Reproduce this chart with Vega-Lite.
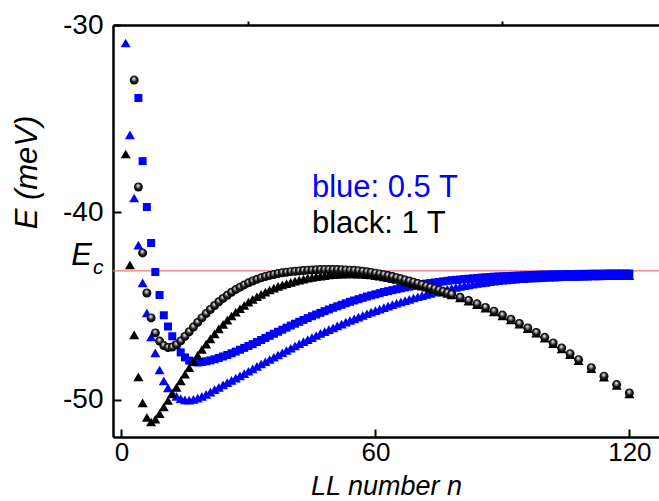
{
  "$schema": "https://vega.github.io/schema/vega-lite/v6.json",
  "width": 546,
  "height": 412,
  "autosize": "none",
  "padding": {"left": 113, "top": 25, "right": 0, "bottom": 64},
  "config": {"view": {"stroke": null}, "font": "Liberation Sans"},
  "datasets": {
    "ec": [{"Ec": -43.13}],
    "bt": [{"n":1,"E":-30.96},{"n":2,"E":-35.87},{"n":3,"E":-39.24},{"n":4,"E":-41.75},{"n":5,"E":-43.77},{"n":6,"E":-45.38},{"n":7,"E":-46.66},{"n":8,"E":-47.51},{"n":9,"E":-48.42},{"n":10,"E":-49.0},{"n":11,"E":-49.38},{"n":12,"E":-49.65},{"n":13,"E":-49.83},{"n":14,"E":-49.95},{"n":15,"E":-50.02},{"n":16,"E":-50.03},{"n":17,"E":-49.99},{"n":18,"E":-49.92},{"n":19,"E":-49.83},{"n":20,"E":-49.72},{"n":21,"E":-49.6},{"n":22,"E":-49.47},{"n":23,"E":-49.35},{"n":24,"E":-49.22},{"n":25,"E":-49.1},{"n":26,"E":-48.98},{"n":27,"E":-48.86},{"n":28,"E":-48.74},{"n":29,"E":-48.62},{"n":30,"E":-48.49},{"n":31,"E":-48.36},{"n":32,"E":-48.23},{"n":33,"E":-48.1},{"n":34,"E":-47.98},{"n":35,"E":-47.86},{"n":36,"E":-47.74},{"n":37,"E":-47.62},{"n":38,"E":-47.5},{"n":39,"E":-47.38},{"n":40,"E":-47.26},{"n":41,"E":-47.14},{"n":42,"E":-47.02},{"n":43,"E":-46.91},{"n":44,"E":-46.8},{"n":45,"E":-46.69},{"n":46,"E":-46.58},{"n":47,"E":-46.47},{"n":48,"E":-46.37},{"n":49,"E":-46.27},{"n":50,"E":-46.17},{"n":51,"E":-46.07},{"n":52,"E":-45.97},{"n":53,"E":-45.87},{"n":54,"E":-45.78},{"n":55,"E":-45.69},{"n":56,"E":-45.6},{"n":57,"E":-45.51},{"n":58,"E":-45.42},{"n":59,"E":-45.33},{"n":60,"E":-45.25},{"n":61,"E":-45.17},{"n":62,"E":-45.09},{"n":63,"E":-45.01},{"n":64,"E":-44.93},{"n":65,"E":-44.86},{"n":66,"E":-44.79},{"n":67,"E":-44.72},{"n":68,"E":-44.65},{"n":69,"E":-44.58},{"n":70,"E":-44.51},{"n":71,"E":-44.45},{"n":72,"E":-44.39},{"n":73,"E":-44.33},{"n":74,"E":-44.27},{"n":75,"E":-44.21},{"n":76,"E":-44.16},{"n":77,"E":-44.11},{"n":78,"E":-44.06},{"n":79,"E":-44.01},{"n":80,"E":-43.96},{"n":81,"E":-43.92},{"n":82,"E":-43.88},{"n":83,"E":-43.84},{"n":84,"E":-43.8},{"n":85,"E":-43.77},{"n":86,"E":-43.74},{"n":87,"E":-43.71},{"n":88,"E":-43.68},{"n":89,"E":-43.65},{"n":90,"E":-43.63},{"n":91,"E":-43.61},{"n":92,"E":-43.59},{"n":93,"E":-43.57},{"n":94,"E":-43.55},{"n":95,"E":-43.54},{"n":96,"E":-43.52},{"n":97,"E":-43.51},{"n":98,"E":-43.5},{"n":99,"E":-43.49},{"n":100,"E":-43.48},{"n":101,"E":-43.47},{"n":102,"E":-43.46},{"n":103,"E":-43.45},{"n":104,"E":-43.44},{"n":105,"E":-43.43},{"n":106,"E":-43.43},{"n":107,"E":-43.42},{"n":108,"E":-43.42},{"n":109,"E":-43.41},{"n":110,"E":-43.41},{"n":111,"E":-43.4},{"n":112,"E":-43.4},{"n":113,"E":-43.4},{"n":114,"E":-43.39},{"n":115,"E":-43.39},{"n":116,"E":-43.39},{"n":117,"E":-43.39},{"n":118,"E":-43.39},{"n":119,"E":-43.38},{"n":120,"E":-43.38}],
    "bs": [{"n":4,"E":-33.9},{"n":5,"E":-37.27},{"n":6,"E":-39.72},{"n":7,"E":-41.64},{"n":8,"E":-43.19},{"n":9,"E":-44.42},{"n":10,"E":-45.5},{"n":11,"E":-46.1},{"n":12,"E":-46.62},{"n":13,"E":-47.1},{"n":14,"E":-47.48},{"n":15,"E":-47.75},{"n":16,"E":-47.92},{"n":17,"E":-48.0},{"n":18,"E":-48.02},{"n":19,"E":-48.0},{"n":20,"E":-47.96},{"n":21,"E":-47.91},{"n":22,"E":-47.85},{"n":23,"E":-47.78},{"n":24,"E":-47.7},{"n":25,"E":-47.62},{"n":26,"E":-47.53},{"n":27,"E":-47.44},{"n":28,"E":-47.34},{"n":29,"E":-47.24},{"n":30,"E":-47.14},{"n":31,"E":-47.04},{"n":32,"E":-46.93},{"n":33,"E":-46.82},{"n":34,"E":-46.71},{"n":35,"E":-46.6},{"n":36,"E":-46.49},{"n":37,"E":-46.38},{"n":38,"E":-46.27},{"n":39,"E":-46.16},{"n":40,"E":-46.05},{"n":41,"E":-45.95},{"n":42,"E":-45.85},{"n":43,"E":-45.75},{"n":44,"E":-45.65},{"n":45,"E":-45.55},{"n":46,"E":-45.46},{"n":47,"E":-45.37},{"n":48,"E":-45.28},{"n":49,"E":-45.19},{"n":50,"E":-45.1},{"n":51,"E":-45.02},{"n":52,"E":-44.94},{"n":53,"E":-44.86},{"n":54,"E":-44.78},{"n":55,"E":-44.71},{"n":56,"E":-44.64},{"n":57,"E":-44.57},{"n":58,"E":-44.5},{"n":59,"E":-44.44},{"n":60,"E":-44.38},{"n":61,"E":-44.32},{"n":62,"E":-44.26},{"n":63,"E":-44.21},{"n":64,"E":-44.16},{"n":65,"E":-44.11},{"n":66,"E":-44.06},{"n":67,"E":-44.01},{"n":68,"E":-43.97},{"n":69,"E":-43.93},{"n":70,"E":-43.89},{"n":71,"E":-43.85},{"n":72,"E":-43.81},{"n":73,"E":-43.78},{"n":74,"E":-43.75},{"n":75,"E":-43.72},{"n":76,"E":-43.69},{"n":77,"E":-43.66},{"n":78,"E":-43.63},{"n":79,"E":-43.61},{"n":80,"E":-43.59},{"n":81,"E":-43.57},{"n":82,"E":-43.55},{"n":83,"E":-43.53},{"n":84,"E":-43.51},{"n":85,"E":-43.49},{"n":86,"E":-43.47},{"n":87,"E":-43.46},{"n":88,"E":-43.44},{"n":89,"E":-43.43},{"n":90,"E":-43.42},{"n":91,"E":-43.41},{"n":92,"E":-43.4},{"n":93,"E":-43.39},{"n":94,"E":-43.38},{"n":95,"E":-43.37},{"n":96,"E":-43.36},{"n":97,"E":-43.35},{"n":98,"E":-43.34},{"n":99,"E":-43.33},{"n":100,"E":-43.33},{"n":101,"E":-43.32},{"n":102,"E":-43.32},{"n":103,"E":-43.31},{"n":104,"E":-43.31},{"n":105,"E":-43.3},{"n":106,"E":-43.3},{"n":107,"E":-43.3},{"n":108,"E":-43.29},{"n":109,"E":-43.29},{"n":110,"E":-43.29},{"n":111,"E":-43.28},{"n":112,"E":-43.28},{"n":113,"E":-43.28},{"n":114,"E":-43.28},{"n":115,"E":-43.27},{"n":116,"E":-43.27},{"n":117,"E":-43.27},{"n":118,"E":-43.27},{"n":119,"E":-43.27},{"n":120,"E":-43.27}],
    "kt": [{"n":1,"E":-36.89},{"n":2,"E":-42.81},{"n":3,"E":-46.55},{"n":4,"E":-48.79},{"n":5,"E":-50.18},{"n":6,"E":-50.95},{"n":7,"E":-51.2},{"n":8,"E":-51.05},{"n":9,"E":-50.75},{"n":10,"E":-50.4},{"n":11,"E":-50.05},{"n":12,"E":-49.7},{"n":13,"E":-49.35},{"n":14,"E":-49.0},{"n":15,"E":-48.65},{"n":16,"E":-48.3},{"n":17,"E":-47.96},{"n":18,"E":-47.64},{"n":19,"E":-47.33},{"n":20,"E":-47.04},{"n":21,"E":-46.76},{"n":22,"E":-46.49},{"n":23,"E":-46.23},{"n":24,"E":-45.99},{"n":25,"E":-45.76},{"n":26,"E":-45.54},{"n":27,"E":-45.34},{"n":28,"E":-45.15},{"n":29,"E":-44.97},{"n":30,"E":-44.8},{"n":31,"E":-44.65},{"n":32,"E":-44.51},{"n":33,"E":-44.38},{"n":34,"E":-44.26},{"n":35,"E":-44.15},{"n":36,"E":-44.05},{"n":37,"E":-43.96},{"n":38,"E":-43.88},{"n":39,"E":-43.81},{"n":40,"E":-43.74},{"n":41,"E":-43.68},{"n":42,"E":-43.62},{"n":43,"E":-43.57},{"n":44,"E":-43.52},{"n":45,"E":-43.48},{"n":46,"E":-43.44},{"n":47,"E":-43.41},{"n":48,"E":-43.38},{"n":49,"E":-43.35},{"n":50,"E":-43.33},{"n":51,"E":-43.31},{"n":52,"E":-43.3},{"n":53,"E":-43.29},{"n":54,"E":-43.29},{"n":55,"E":-43.29},{"n":56,"E":-43.3},{"n":57,"E":-43.31},{"n":58,"E":-43.33},{"n":59,"E":-43.35},{"n":60,"E":-43.38},{"n":61,"E":-43.41},{"n":62,"E":-43.45},{"n":63,"E":-43.49},{"n":64,"E":-43.54},{"n":65,"E":-43.59},{"n":66,"E":-43.64},{"n":67,"E":-43.7},{"n":68,"E":-43.76},{"n":69,"E":-43.82},{"n":70,"E":-43.88},{"n":71,"E":-43.94},{"n":72,"E":-44.0},{"n":73,"E":-44.06},{"n":74,"E":-44.12},{"n":75,"E":-44.19},{"n":76,"E":-44.26},{"n":77,"E":-44.33},{"n":78,"E":-44.41},{"n":80,"E":-44.58},{"n":82,"E":-44.75},{"n":84,"E":-44.93},{"n":86,"E":-45.12},{"n":88,"E":-45.32},{"n":90,"E":-45.53},{"n":92,"E":-45.75},{"n":94,"E":-45.98},{"n":96,"E":-46.22},{"n":98,"E":-46.46},{"n":100,"E":-46.72},{"n":102,"E":-47.02},{"n":104,"E":-47.3},{"n":106,"E":-47.6},{"n":108,"E":-47.92},{"n":111,"E":-48.35},{"n":114,"E":-48.8},{"n":117,"E":-49.25},{"n":120,"E":-49.7}],
    "ks": [{"n":3,"E":-32.94},{"n":4,"E":-38.65},{"n":5,"E":-42.17},{"n":6,"E":-44.31},{"n":7,"E":-45.64},{"n":8,"E":-46.44},{"n":9,"E":-46.88},{"n":10,"E":-47.12},{"n":11,"E":-47.22},{"n":12,"E":-47.2},{"n":13,"E":-47.07},{"n":14,"E":-46.87},{"n":15,"E":-46.63},{"n":16,"E":-46.38},{"n":17,"E":-46.13},{"n":18,"E":-45.88},{"n":19,"E":-45.64},{"n":20,"E":-45.41},{"n":21,"E":-45.19},{"n":22,"E":-44.98},{"n":23,"E":-44.78},{"n":24,"E":-44.6},{"n":25,"E":-44.43},{"n":26,"E":-44.27},{"n":27,"E":-44.13},{"n":28,"E":-44.0},{"n":29,"E":-43.88},{"n":30,"E":-43.77},{"n":31,"E":-43.67},{"n":32,"E":-43.58},{"n":33,"E":-43.5},{"n":34,"E":-43.43},{"n":35,"E":-43.37},{"n":36,"E":-43.32},{"n":37,"E":-43.27},{"n":38,"E":-43.23},{"n":39,"E":-43.2},{"n":40,"E":-43.17},{"n":41,"E":-43.15},{"n":42,"E":-43.13},{"n":43,"E":-43.11},{"n":44,"E":-43.09},{"n":45,"E":-43.08},{"n":46,"E":-43.07},{"n":47,"E":-43.06},{"n":48,"E":-43.06},{"n":49,"E":-43.06},{"n":50,"E":-43.06},{"n":51,"E":-43.06},{"n":52,"E":-43.07},{"n":53,"E":-43.08},{"n":54,"E":-43.09},{"n":55,"E":-43.1},{"n":56,"E":-43.12},{"n":57,"E":-43.15},{"n":58,"E":-43.18},{"n":59,"E":-43.21},{"n":60,"E":-43.25},{"n":61,"E":-43.29},{"n":62,"E":-43.33},{"n":63,"E":-43.38},{"n":64,"E":-43.43},{"n":65,"E":-43.49},{"n":66,"E":-43.55},{"n":67,"E":-43.61},{"n":68,"E":-43.67},{"n":69,"E":-43.73},{"n":70,"E":-43.8},{"n":71,"E":-43.87},{"n":72,"E":-43.94},{"n":73,"E":-44.01},{"n":74,"E":-44.08},{"n":75,"E":-44.15},{"n":76,"E":-44.23},{"n":77,"E":-44.3},{"n":78,"E":-44.38},{"n":80,"E":-44.54},{"n":82,"E":-44.71},{"n":84,"E":-44.89},{"n":86,"E":-45.08},{"n":88,"E":-45.28},{"n":90,"E":-45.49},{"n":92,"E":-45.71},{"n":94,"E":-45.94},{"n":96,"E":-46.18},{"n":98,"E":-46.42},{"n":100,"E":-46.68},{"n":102,"E":-46.98},{"n":104,"E":-47.25},{"n":106,"E":-47.55},{"n":108,"E":-47.87},{"n":111,"E":-48.3},{"n":114,"E":-48.75},{"n":117,"E":-49.2},{"n":120,"E":-49.65}],
    "lab": [{"t": "blue: 0.5 T"}, {"t": "black: 1 T"}, {"t": "E"}, {"t": "c"}]
  },
  "resolve": {"axis": {"x": "independent", "y": "independent"}},
  "layer": [
    {
      "data": {"name": "ec"},
      "mark": {"type": "rule", "color": "#f07878", "strokeWidth": 1.3},
      "encoding": {
        "y": {"field": "Ec", "type": "quantitative", "scale": {"domain": [-52, -30], "nice": false, "zero": false}, "axis": null}
      }
    },
    {
      "data": {"name": "bt"},
      "mark": {"type": "point", "shape": "triangle-up", "filled": true, "color": "#0000ff", "opacity": 1, "size": 100, "strokeWidth": 0, "clip": true},
      "encoding": {
        "x": {"field": "n", "type": "quantitative", "scale": {"domain": [-2, 127], "nice": false, "zero": false},
          "axis": {"values": [0, 60, 120], "title": "LL number n", "grid": false, "domainColor": "black", "domainWidth": 2.5, "tickColor": "black", "tickWidth": 2, "tickSize": -8, "labelPadding": 10, "labelFontSize": 26, "labelColor": "black", "titleFontSize": 27, "titleFontStyle": "italic", "titleFontWeight": "normal", "titleColor": "black", "titleBaseline": "alphabetic", "titleY": 57}},
        "y": {"field": "E", "type": "quantitative", "scale": {"domain": [-52, -30], "nice": false, "zero": false},
          "axis": {"values": [-30, -40, -50], "title": "E (meV)", "grid": false, "domainColor": "black", "domainWidth": 2.5, "tickColor": "black", "tickWidth": 2, "tickSize": -8, "labelPadding": 18, "labelFontSize": 28, "labelColor": "black", "labelExpr": "replace(datum.label, '−', '-')", "titleFontSize": 31, "titleFontStyle": "italic", "titleFontWeight": "normal", "titleColor": "black", "titleX": -70, "titleY": 147, "titleAlign": "center", "titleBaseline": "bottom"}}
      }
    },
    {
      "data": {"name": "bs"},
      "mark": {"type": "point", "shape": "square", "filled": true, "color": "#0000ff", "opacity": 1, "size": 64, "strokeWidth": 0, "clip": true},
      "encoding": {
        "x": {"field": "n", "type": "quantitative", "scale": {"domain": [-2, 127], "nice": false, "zero": false},
          "axis": {"values": [30, 90], "title": null, "labels": false, "domain": false, "grid": false, "tickColor": "black", "tickWidth": 2, "tickSize": 4}},
        "y": {"field": "E", "type": "quantitative", "scale": {"domain": [-52, -30], "nice": false, "zero": false},
          "axis": {"values": [-35, -45], "title": null, "labels": false, "domain": false, "grid": false, "tickColor": "black", "tickWidth": 2, "tickSize": 4}}
      }
    },
    {
      "data": {"name": "kt"},
      "mark": {"type": "point", "shape": "triangle-up", "filled": true, "color": "#000000", "opacity": 1, "size": 100, "strokeWidth": 0, "clip": true},
      "encoding": {
        "x": {"field": "n", "type": "quantitative", "scale": {"domain": [-2, 127], "nice": false, "zero": false},
          "axis": {"orient": "top", "title": null, "labels": false, "ticks": false, "grid": false, "domainColor": "black", "domainWidth": 2.5}},
        "y": {"field": "E", "type": "quantitative", "scale": {"domain": [-52, -30], "nice": false, "zero": false}, "axis": null}
      }
    },
    {
      "data": {"name": "ks"},
      "mark": {"type": "point", "shape": "circle", "filled": true, "opacity": 1, "size": 81, "strokeWidth": 0, "clip": true,
        "fill": {"gradient": "radial", "x1": 0.45, "y1": 0.3, "r1": 0, "x2": 0.5, "y2": 0.5, "r2": 0.5,
          "stops": [{"offset": 0, "color": "#ffffff"}, {"offset": 0.25, "color": "#b0b0b0"}, {"offset": 0.6, "color": "#1a1a1a"}, {"offset": 1, "color": "#000000"}]}},
      "encoding": {
        "x": {"field": "n", "type": "quantitative", "scale": {"domain": [-2, 127], "nice": false, "zero": false}, "axis": null},
        "y": {"field": "E", "type": "quantitative", "scale": {"domain": [-52, -30], "nice": false, "zero": false}, "axis": null}
      }
    },
    {
      "data": {"name": "lab"},
      "transform": [{"filter": "datum.t == 'blue: 0.5 T'"}],
      "mark": {"type": "text", "align": "left", "baseline": "alphabetic", "fontSize": 31, "color": "#0000ff"},
      "encoding": {
        "x": {"datum": 45, "type": "quantitative", "axis": null},
        "y": {"datum": -39.18, "type": "quantitative", "axis": null},
        "text": {"field": "t"}
      }
    },
    {
      "data": {"name": "lab"},
      "transform": [{"filter": "datum.t == 'black: 1 T'"}],
      "mark": {"type": "text", "align": "left", "baseline": "alphabetic", "fontSize": 31, "color": "#000000"},
      "encoding": {
        "x": {"datum": 45, "type": "quantitative", "axis": null},
        "y": {"datum": -41.12, "type": "quantitative", "axis": null},
        "text": {"field": "t"}
      }
    },
    {
      "data": {"name": "lab"},
      "transform": [{"filter": "datum.t == 'E'"}],
      "mark": {"type": "text", "align": "right", "baseline": "alphabetic", "fontSize": 31, "fontStyle": "italic", "color": "#000000", "dx": -21, "dy": -6},
      "encoding": {
        "x": {"datum": -2, "type": "quantitative", "axis": null},
        "y": {"datum": -43.13, "type": "quantitative", "axis": null},
        "text": {"field": "t"}
      }
    },
    {
      "data": {"name": "lab"},
      "transform": [{"filter": "datum.t == 'c'"}],
      "mark": {"type": "text", "align": "left", "baseline": "alphabetic", "fontSize": 21, "fontStyle": "italic", "color": "#000000", "dx": -20, "dy": 3},
      "encoding": {
        "x": {"datum": -2, "type": "quantitative", "axis": null},
        "y": {"datum": -43.13, "type": "quantitative", "axis": null},
        "text": {"field": "t"}
      }
    }
  ]
}
